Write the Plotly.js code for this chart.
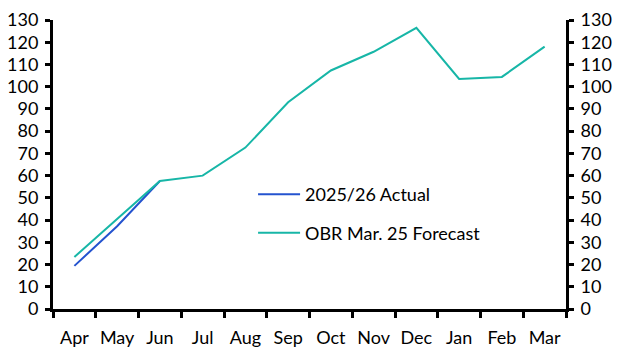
<!DOCTYPE html>
<html><head><meta charset="utf-8">
<script src="https://cdn.plot.ly/plotly-3.0.1.min.js"></script>
<style>body{margin:0;padding:0;background:#fff}#chart{width:628px;height:352px}</style>
</head><body><div id="chart"></div>
<script>
const months = ['Apr','May','Jun','Jul','Aug','Sep','Oct','Nov','Dec','Jan','Feb','Mar'];
const actualMonths = ['Apr','May','Jun'];
const actual = [19.4, 37.2, 57.6];
const forecast = [23.4, 40.6, 57.6, 60.0, 72.6, 93.0, 107.3, 115.7, 126.5, 103.5, 104.4, 118.0];
const yTicks = [0,10,20,30,40,50,60,70,80,90,100,110,120,130];

const font = {family: 'Lato, "Open Sans", sans-serif', size: 18, color: '#000'};
const traces = [
  {x: actualMonths, y: actual, type: 'scatter', mode: 'lines', name: '2025/26 Actual',
   legendgroup: 'a', line: {color: '#2453cf', width: 2}},
  {x: months, y: forecast, type: 'scatter', mode: 'lines', name: 'OBR Mar. 25 Forecast',
   legendgroup: 'b', line: {color: '#17b6a7', width: 2}},
  {x: months, y: forecast, type: 'scatter', mode: 'lines', yaxis: 'y2', showlegend: false,
   hoverinfo: 'skip', opacity: 0, line: {color: 'rgba(0,0,0,0)', width: 0}}
];
const yax = {range: [0,130], tickvals: yTicks, ticktext: yTicks.map(String), showgrid: false, zeroline: false,
  showline: true, linecolor: '#000', linewidth: 3, ticks: 'outside', ticklen: 5, tickwidth: 3, tickcolor: '#000',
  tickfont: font, fixedrange: true, ticklabelstandoff: 3};
const layout = {
  width: 628, height: 352,
  margin: {l: 53, r: 62, t: 20, b: 43},
  paper_bgcolor: '#fff', plot_bgcolor: '#fff',
  font: font,
  showlegend: true,
  legend: {x: 0.39, y: 0.46, xanchor: 'left', yanchor: 'top', bgcolor: 'rgba(0,0,0,0)',
    font: font, traceorder: 'grouped', tracegroupgap: 12, itemwidth: 42},
  xaxis: {type: 'category', categoryarray: months, categoryorder: 'array', range: [-0.5, 11.5],
    showgrid: false, zeroline: false, showline: true, linecolor: '#000', linewidth: 3,
    ticks: 'outside', tickson: 'boundaries', ticklen: 6, tickwidth: 3, tickcolor: '#000',
    tickfont: font, tickangle: 0, ticklabelstandoff: 10},
  yaxis: Object.assign({}, yax, {side: 'left'}),
  yaxis2: Object.assign({}, yax, {side: 'right', overlaying: 'y', anchor: 'x'})
};
Plotly.newPlot('chart', traces, layout, {displayModeBar: false, staticPlot: true});
</script></body></html>
